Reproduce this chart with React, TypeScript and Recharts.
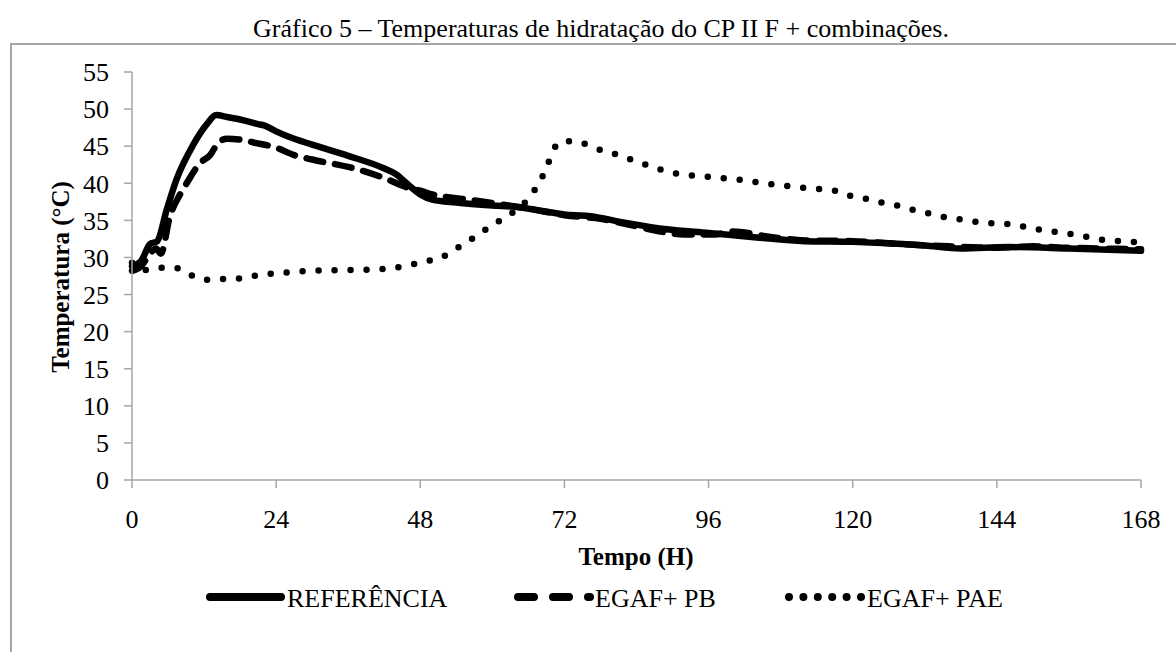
import { LineChart, Line, XAxis, YAxis } from "recharts";

const hourTicks = [0, 24, 48, 72, 96, 120, 144, 168];
const tempTicks = [0, 5, 10, 15, 20, 25, 30, 35, 40, 45, 50, 55];

const refHours = [0, 1.5, 3, 4.2, 5.8, 7.4, 10.2, 12.5, 14, 16, 18, 20.8, 22, 24, 26, 30, 36, 42, 44, 46, 48, 50, 54, 60, 64, 68, 72, 76, 82, 89, 96, 104, 112, 120, 126, 132, 138, 146, 156, 168];
const refTemps = [28.8, 29.5, 31.8, 32.2, 36.5, 40.5, 45.2, 48.0, 49.2, 48.9, 48.6, 48.0, 47.8, 47.0, 46.3, 45.2, 43.7, 42.0, 41.2, 39.8, 38.5, 37.8, 37.4, 37.0, 36.8, 36.3, 35.8, 35.6, 34.7, 33.8, 33.3, 32.7, 32.2, 32.1, 31.9, 31.6, 31.2, 31.4, 31.2, 30.9];

const pbHours = [0, 1.5, 3, 4, 4.8, 6.3, 8, 9.1, 11.3, 13, 14.4, 15.8, 18, 20.2, 24, 27, 30, 37, 42, 46, 48, 50, 56, 61, 66, 72, 78, 84, 88, 92, 97, 100, 106, 112, 120, 128, 136, 144, 150, 156, 162, 168];
const pbTemps = [28.2, 28.8, 30.5, 31.2, 30.5, 35.5, 38.5, 40.0, 42.7, 43.8, 45.5, 46.0, 45.9, 45.5, 44.8, 43.8, 43.2, 42.0, 40.7, 39.4, 39.0, 38.5, 37.8, 37.2, 36.6, 35.7, 35.2, 34.2, 33.5, 33.1, 33.1, 33.5, 32.8, 32.3, 32.2, 31.8, 31.5, 31.3, 31.5, 31.3, 31.2, 31.1];

const paeHours = [0, 2.2, 4.7, 7.2, 9.6, 12.1, 14.4, 16.8, 19.4, 22, 24.7, 27.4, 30.1, 35.5, 40.9, 43.6, 46.3, 49, 51.5, 53.8, 56.2, 58.4, 60.7, 62.9, 65.2, 66.8, 68.1, 69.2, 70.2, 71.9, 74.6, 77.2, 79.8, 82.3, 84.9, 87.4, 90.1, 92.8, 95.5, 100.9, 106.2, 111.6, 117, 119.6, 122.2, 124.8, 127.4, 130.1, 132.8, 135.4, 138.1, 140.7, 143.4, 146.1, 148.8, 151.5, 154.1, 156.8, 159.5, 162.2, 164.8, 168];
const paeTemps = [29.3, 28.3, 28.6, 28.6, 27.7, 27.0, 27.1, 27.1, 27.4, 27.7, 27.9, 28.1, 28.2, 28.3, 28.4, 28.6, 29.0, 29.5, 30.0, 31.1, 32.3, 33.5, 34.7, 35.8, 37.2, 38.8, 40.5, 42.5, 44.6, 45.7, 45.5, 44.7, 44.1, 43.4, 42.7, 42.0, 41.4, 41.1, 40.9, 40.5, 39.9, 39.4, 39.0, 38.3, 37.9, 37.4, 37.0, 36.4, 35.9, 35.4, 35.1, 34.8, 34.6, 34.5, 34.1, 33.7, 33.4, 33.1, 32.7, 32.3, 32.2, 32.0];

const seriesNames = ["REFERÊNCIA", "EGAF+ PB", "EGAF+ PAE"];

const toPoints = (hours: number[], temps: number[]) =>
  hours.map((h, i) => ({ h, t: temps[i] }));

const font = '"Liberation Serif", "Times New Roman", serif';
const axisGray = "#a6a6a6";

// plot dashes / legend dashes
const dashes = [undefined, "17 12", "0 16"];
const legendDashes = [undefined, "16 19", "0 14.4"];

export default function App() {
  const series = [
    toPoints(refHours, refTemps),
    toPoints(pbHours, pbTemps),
    toPoints(paeHours, paeTemps),
  ];
  const tick = { fill: "#000", fontSize: 26, fontFamily: font };

  return (
    <div style={{ position: "absolute", left: 0, top: 0, width: 1176, height: 652, background: "#fff", overflow: "hidden" }}>
      <div
        style={{
          position: "absolute",
          left: 10,
          top: 43,
          width: 1200,
          height: 700,
          border: `2px solid ${axisGray}`,
          boxSizing: "border-box",
        }}
      />
      <div style={{ position: "absolute", left: 0, top: 0 }}>
        <LineChart width={1176} height={652} margin={{ top: 72, right: 35, bottom: 112, left: 72 }}>
          <XAxis
            type="number"
            dataKey="h"
            domain={[0, 168]}
            ticks={hourTicks}
            interval={0}
            height={60}
            tick={tick}
            tickSize={8}
            tickMargin={22}
            stroke={axisGray}
            strokeWidth={1.5}
            allowDuplicatedCategory={false}
          />
          <YAxis
            type="number"
            dataKey="t"
            domain={[0, 55]}
            ticks={tempTicks}
            interval={0}
            width={60}
            tick={tick}
            tickSize={8}
            tickMargin={15}
            stroke={axisGray}
            strokeWidth={1.5}
          />
          {series.map((data, i) => (
            <Line
              key={seriesNames[i]}
              data={data}
              dataKey="t"
              name={seriesNames[i]}
              type="monotone"
              stroke="#000"
              strokeWidth={6.5}
              strokeLinecap="round"
              strokeLinejoin="round"
              strokeDasharray={dashes[i]}
              dot={false}
              activeDot={false}
              isAnimationActive={false}
            />
          ))}
        </LineChart>
      </div>
      <svg width={1176} height={652} style={{ position: "absolute", left: 0, top: 0, pointerEvents: "none" }}>
        <text x={601} y={37} textAnchor="middle" fontFamily={font} fontSize={26}>
          Gráfico 5 – Temperaturas de hidratação do CP II F + combinações.
        </text>
        <text
          transform="translate(60 277) rotate(-90)"
          textAnchor="middle"
          fontFamily={font}
          fontWeight="bold"
          fontSize={25}
          dominantBaseline="central"
        >
          Temperatura (°C)
        </text>
        <text x={636} y={556} textAnchor="middle" fontFamily={font} fontWeight="bold" fontSize={25} dominantBaseline="central">
          Tempo (H)
        </text>
        {[
          { x1: 210, x2: 281, tx: 287 },
          { x1: 518, x2: 590, tx: 595 },
          { x1: 789, x2: 861, tx: 867 },
        ].map((p, i) => (
          <g key={seriesNames[i]}>
            <line
              x1={p.x1}
              x2={p.x2}
              y1={597}
              y2={597}
              stroke="#000"
              strokeWidth={8}
              strokeLinecap="round"
              strokeDasharray={legendDashes[i]}
            />
            <text x={p.tx} y={598} fontFamily={font} fontSize={26} dominantBaseline="central">
              {seriesNames[i]}
            </text>
          </g>
        ))}
      </svg>
    </div>
  );
}
